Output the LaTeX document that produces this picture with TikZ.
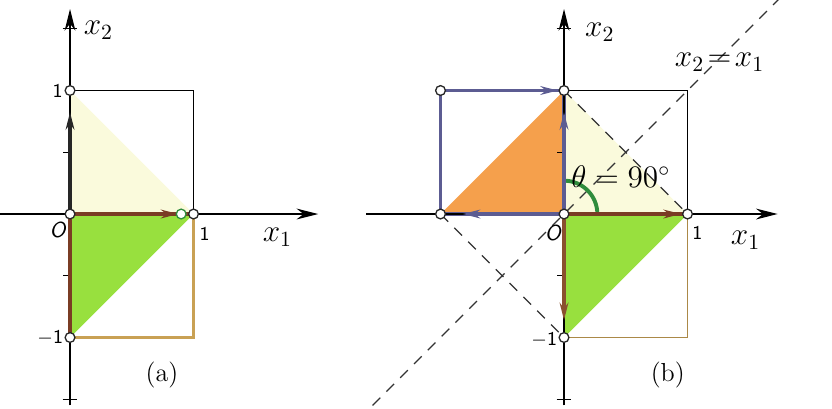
\documentclass[tikz,border=0pt]{standalone}
\usepackage{amsmath}
\usepackage{tikz}
\usetikzlibrary{arrows.meta}
\definecolor{paleyel}{HTML}{FAFADC}
\definecolor{leafgreen}{HTML}{98E03E}
\definecolor{peach}{HTML}{F5A04C}
\definecolor{slate}{HTML}{5C5C92}
\definecolor{rust}{HTML}{7A3C24}
\definecolor{tanline}{HTML}{C9A154}
\definecolor{arcgreen}{HTML}{2F8C3C}
\tikzset{
  axis/.style={line width=0.6pt, -{Stealth[length=10pt,width=5pt]}},
  vec/.style={line width=1.6pt, -{Stealth[length=8pt,width=4pt]}},
  dot/.style={circle, draw=black!85, line width=0.6pt, fill=white, inner sep=0pt, minimum size=4.5pt},
  numlab/.style={font=\sffamily\small},
  dashline/.style={dashed, dash pattern=on 5pt off 4pt, line width=0.6pt, black!80}}

\begin{document}
\begin{tikzpicture}[x=2cm,y=2cm]
\useasboundingbox (-0.567,-1.571) rectangle (6.17,1.733);
% panel (a)
\begin{scope}
	\coordinate (o) at (0,0);
	\coordinate (e1) at (1,0);
	\coordinate (e2) at (0,1);
	\coordinate (m2) at (0,-1);
	\coordinate (c) at (1,-1);
	\fill [paleyel] (o) -- (e1) -- (e2) -- cycle;
	\fill [leafgreen] (o) -- (e1) -- (m2) -- cycle;
	\draw [line width=0.6pt] (o) rectangle (1,1);
	\draw [tanline, line width=1.8pt] (o) rectangle (c);
	\draw [axis] (-0.567,0) -- (2.01,0);
	\draw [axis] (0,-1.55) -- (0,1.66);
	\foreach \y in {0.5,-0.5} \draw [line width=0.6pt] (0,\y) -- (-0.06,\y);
	\foreach \y in {1.5,-1.5} \draw [line width=0.6pt] (-0.06,\y) -- (0.06,\y);
	\draw [rust, line width=1.8pt] (o) -- (m2);
	\draw [rust, line width=1.6pt] (o) -- (e1);
	\draw [vec, rust, shorten >=7pt] (o) -- (e1);
	\draw [vec, black!85, shorten >=10pt] (o) -- (e2);
	\node [dot] (d0) at (o) {};
	\node [dot] (d1) at (e1) {};
	\node [dot] (d2) at (e2) {};
	\node [dot] (d3) at (m2) {};
	\node [dot, draw=arcgreen] (d4) at (0.9,0) {};
	\node at (0.23,1.49) {\Large $x_2$};
	\node at (1.68,-0.19) {\Large $x_1$};
	\node [numlab] at (1.09,-0.16) {1};
	\node [numlab] at (-0.1,1) {1};
	\node [numlab] at (-0.16,-1) {$-$1};
	\node [font=\sffamily\itshape] at (-0.1,-0.13) {O};
	\node at (0.745,-1.3) {\large (a)};
\end{scope}
% panel (b)
\begin{scope}[shift={(4,0)}]
	\coordinate (O) at (0,0);
	\coordinate (E1) at (1,0);
	\coordinate (E2) at (0,1);
	\coordinate (M1) at (-1,0);
	\coordinate (M2) at (0,-1);
	\coordinate (P) at (-1,1);
	\fill [paleyel] (O) -- (E1) -- (E2) -- cycle;
	\fill [peach] (O) -- (M1) -- (E2) -- cycle;
	\fill [leafgreen] (O) -- (E1) -- (M2) -- cycle;
	\draw [line width=0.6pt] (O) rectangle (1,1);
	\draw [tanline!85!black, line width=0.7pt] (O) rectangle (1,-1);
	\draw [slate, line width=1.8pt] (M1) rectangle (E2);
	\draw [dashline] (-1.55,-1.55) -- (1.78,1.78);
	\draw [dashline] (E2) -- (E1);
	\draw [dashline] (M1) -- (M2);
	\draw [axis] (-1.6,0) -- (1.73,0);
	\draw [axis] (0,-1.55) -- (0,1.66);
	\foreach \y in {0.5,-0.5} \draw [line width=0.6pt] (0,\y) -- (-0.06,\y);
	\foreach \y in {1.5,-1.5} \draw [line width=0.6pt] (-0.06,\y) -- (0.06,\y);
	\draw [arcgreen, line width=1.8pt] (0.27,0) arc (0:90:0.27);
	\draw [rust, line width=1.6pt] (O) -- (E1);
	\draw [vec, rust, shorten >=3pt] (O) -- (E1);
	\draw [vec, slate, shorten >=10pt] (O) -- (E2);
	\draw [vec, rust!80!tanline, shorten >=8pt] (O) -- (M2);
	\draw [vec, slate] (P) -- (-0.05,1);
	\draw [vec, slate] (O) -- (-0.82,0);
	\node [dot] (D0) at (O) {};
	\node [dot] (D1) at (E1) {};
	\node [dot] (D2) at (E2) {};
	\node [dot] (D3) at (M1) {};
	\node [dot] (D4) at (M2) {};
	\node [dot] (D5) at (P) {};
	\node at (0.29,1.47) {\Large $x_2$};
	\node at (1.47,-0.21) {\Large $x_1$};
	\node at (1.26,1.23) {\Large $x_2\!=\!x_1$};
	\node at (0.46,0.30) {\Large $\theta = 90^\circ$};
	\node [numlab] at (1.08,-0.15) {1};
	\node [numlab] at (-0.16,-1.02) {$-$1};
	\node [font=\sffamily\itshape] at (-0.09,-0.15) {O};
	\node at (0.84,-1.3) {\large (b)};
\end{scope}
\end{tikzpicture}
\end{document}
